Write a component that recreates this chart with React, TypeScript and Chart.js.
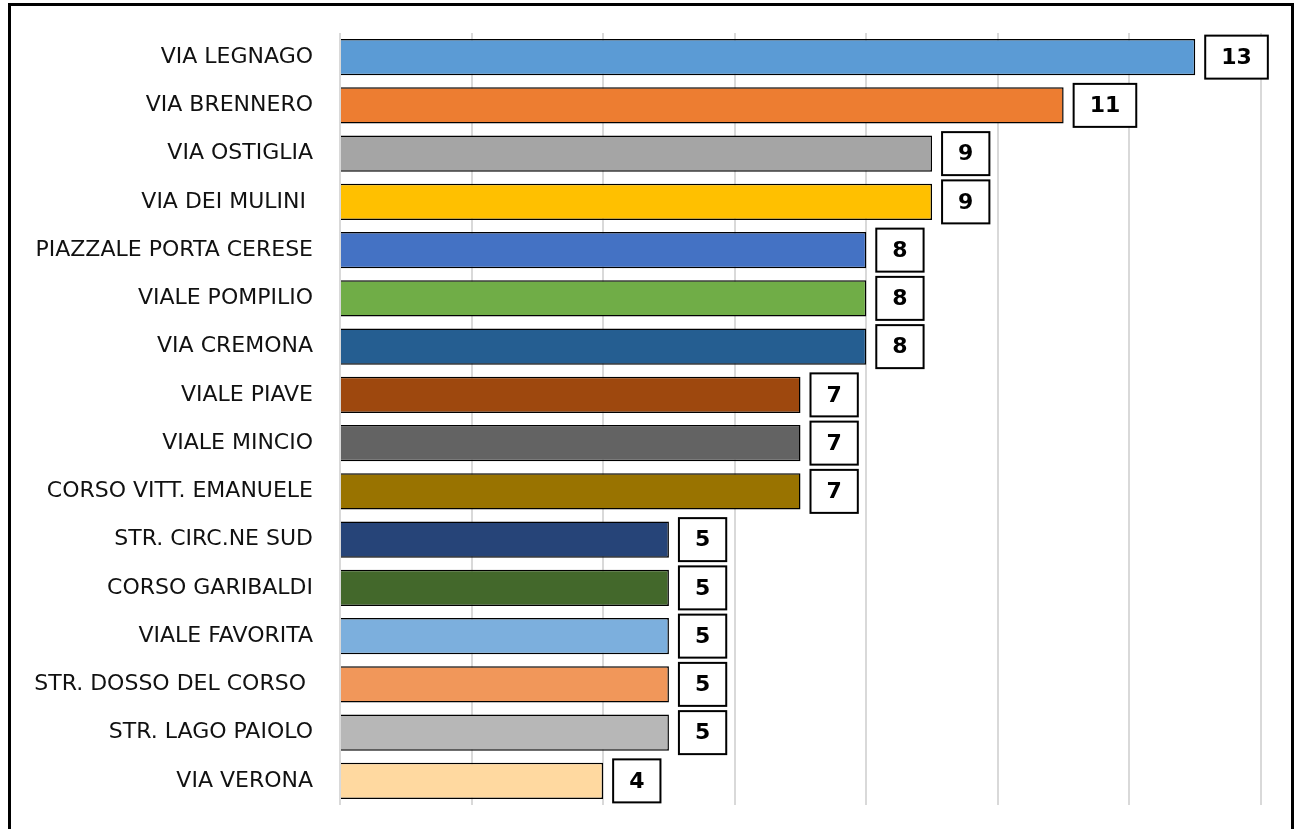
import React, { useEffect, useRef } from "react";
import { Chart, registerables } from "chart.js";

Chart.register(...registerables);

const categories = [
  "VIA LEGNAGO",
  "VIA BRENNERO",
  "VIA OSTIGLIA",
  "VIA DEI MULINI ",
  "PIAZZALE PORTA CERESE",
  "VIALE POMPILIO",
  "VIA CREMONA",
  "VIALE PIAVE",
  "VIALE MINCIO",
  "CORSO VITT. EMANUELE",
  "STR. CIRC.NE SUD",
  "CORSO GARIBALDI",
  "VIALE FAVORITA",
  "STR. DOSSO DEL CORSO ",
  "STR. LAGO PAIOLO",
  "VIA VERONA",
];

const values = [13, 11, 9, 9, 8, 8, 8, 7, 7, 7, 5, 5, 5, 5, 5, 4];

const barColors = [
  "#5B9BD5",
  "#ED7D31",
  "#A5A5A5",
  "#FFC000",
  "#4472C4",
  "#70AD47",
  "#255E91",
  "#9E480E",
  "#636363",
  "#997300",
  "#264478",
  "#43682B",
  "#7CAFDD",
  "#F1975A",
  "#B7B7B7",
  "#FFD9A0",
];

const xMax = 14;

const labelBoxPlugin = {
  id: "labelBoxes",
  afterDatasetsDraw(chart: any) {
    const ctx = chart.ctx;
    const meta = chart.getDatasetMeta(0);
    ctx.save();
    ctx.font = "bold 22px 'DejaVu Sans', sans-serif";
    ctx.textAlign = "center";
    ctx.textBaseline = "middle";
    meta.data.forEach((bar: any, i: number) => {
      const text = String(values[i]);
      const tw = ctx.measureText(text).width;
      const w = tw + 32;
      const h = 43;
      const x0 = bar.x + 10;
      const y0 = bar.y - h / 2;
      ctx.fillStyle = "#ffffff";
      ctx.fillRect(x0, y0, w, h);
      ctx.strokeStyle = "#000000";
      ctx.lineWidth = 2;
      ctx.strokeRect(x0, y0, w, h);
      ctx.fillStyle = "#000000";
      ctx.fillText(text, x0 + w / 2, bar.y + 1);
    });
    ctx.restore();
  },
};

export default function App() {
  const ref = useRef<HTMLCanvasElement | null>(null);

  useEffect(() => {
    if (!ref.current) return;
    const chart = new Chart(ref.current, {
      type: "bar",
      data: {
        labels: categories,
        datasets: [
          {
            data: values,
            backgroundColor: barColors,
            borderColor: "#000000",
            borderWidth: 1.5,
            categoryPercentage: 1,
            barPercentage: 0.75,
          },
        ],
      },
      options: {
        indexAxis: "y",
        animation: false,
        responsive: false,
        maintainAspectRatio: false,
        layout: { padding: { left: 0, top: 33, right: 37, bottom: 24 } },
        plugins: {
          legend: { display: false },
          tooltip: { enabled: false },
        },
        scales: {
          x: {
            min: 0,
            max: xMax,
            ticks: { display: false, stepSize: 2 },
            grid: { color: "#D9D9D9", lineWidth: 2, drawTicks: false },
            border: { display: false },
            afterFit(axis: any) {
              axis.height = 0;
              axis.paddingLeft = 0;
              axis.paddingRight = 0;
              axis.paddingTop = 0;
              axis.paddingBottom = 0;
            },
          },
          y: {
            ticks: {
              color: "#111111",
              font: { family: "'DejaVu Sans', sans-serif", size: 22 },
              padding: 27,
              autoSkip: false,
            },
            grid: { display: false, drawTicks: false },
            border: { display: false },
            afterFit(axis: any) {
              axis.width = 340;
              axis.paddingTop = 0;
              axis.paddingBottom = 0;
              axis.paddingLeft = 0;
              axis.paddingRight = 0;
            },
          },
        },
      },
      plugins: [labelBoxPlugin],
    });
    return () => chart.destroy();
  }, []);

  return (
    <div
      style={{
        position: "fixed",
        left: 0,
        top: 0,
        width: 1298,
        height: 829,
        overflow: "hidden",
        background: "#ffffff",
      }}
    >
      <canvas
        ref={ref}
        width={1298}
        height={829}
        style={{ position: "absolute", left: 0, top: 0, width: 1298, height: 829 }}
      />
      <div
        style={{
          position: "absolute",
          left: 8,
          top: 3,
          width: 1286,
          height: 860,
          boxSizing: "border-box",
          border: "3px solid #000000",
          pointerEvents: "none",
        }}
      />
    </div>
  );
}
